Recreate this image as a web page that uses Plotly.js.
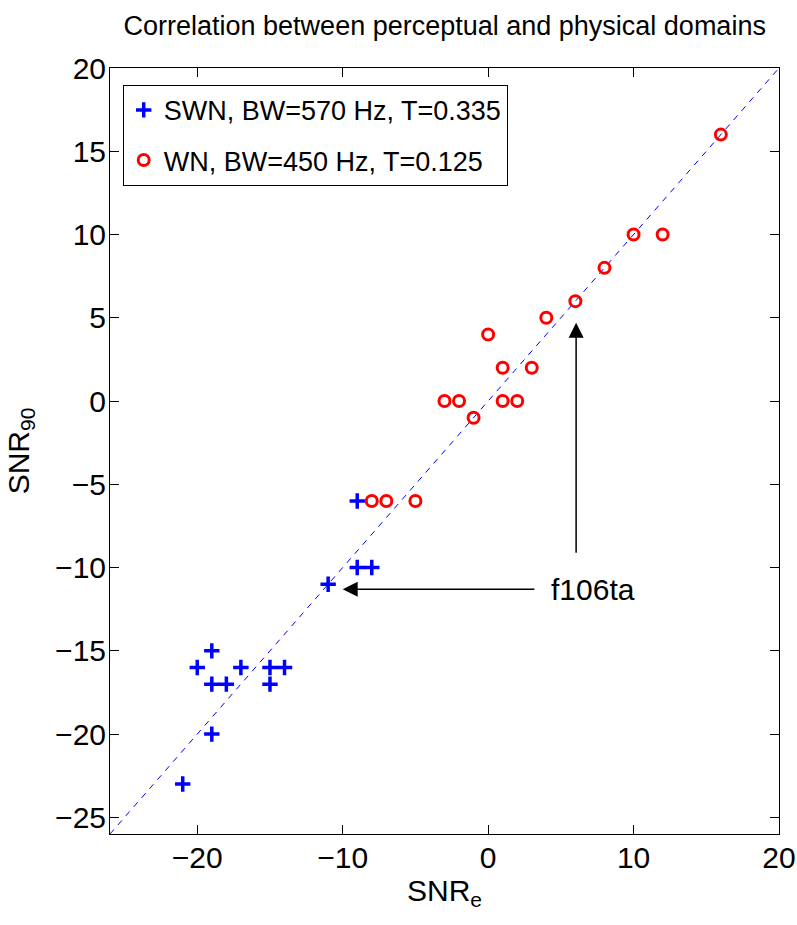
<!DOCTYPE html>
<html>
<head>
<meta charset="utf-8">
<script src="https://cdn.plot.ly/plotly-3.0.1.min.js"></script>
<style>html,body{margin:0;padding:0;background:#fff;}#chart{width:797px;height:925px;}</style>
</head>
<body>
<div id="chart"></div>
<script>
// SWN series (blue +)
const swnX = [-21, -20, -19, -19, -19, -18, -17, -15, -15, -14, -11, -9, -9, -8];
const swnY = [-23, -16, -15, -17, -20, -17, -16, -16, -17, -16, -11, -6, -10, -10];
// WN series (red o)
const wnX = [-8, -7, -5, -3, -2, -1, 0, 1, 1, 2, 3, 4, 6, 8, 10, 12, 16];
const wnY = [-6, -6, -6, 0, 0, -1, 4, 2, 0, 0, 2, 5, 6, 8, 10, 10, 16];
// diagonal reference
const diagX = [-26, 20];
const diagY = [-26, 20];
const xTicks = [-20, -10, 0, 10, 20];
const yTicks = [-25, -20, -15, -10, -5, 0, 5, 10, 15, 20];
const swnName = 'SWN, BW=570 Hz, T=0.335';
const wnName = 'WN, BW=450 Hz, T=0.125';
const annLabel = 'f106ta';

const FONT = '"Liberation Sans", Arial, sans-serif';

const traces = [
  {x: diagX, y: diagY, mode: 'lines', showlegend: false, hoverinfo: 'skip',
   line: {color: '#0000ff', width: 1, dash: '6px,6px'}},
  {x: swnX, y: swnY, mode: 'markers', name: swnName, legendgroup: 'a',
   marker: {symbol: 'cross-thin', size: 11, color: '#0000ff', line: {color: '#0000ff', width: 3.5}}},
  {x: wnX, y: wnY, mode: 'markers', name: wnName, legendgroup: 'b',
   marker: {symbol: 'circle-open', size: 11, color: '#ff0000', line: {color: '#ff0000', width: 3}}}
];

const axisCommon = {
  showgrid: false, zeroline: false, showline: true, linecolor: '#000', linewidth: 1,
  mirror: 'ticks', ticks: 'inside', ticklen: 9, tickcolor: '#000', tickwidth: 1,
  tickfont: {family: FONT, size: 30, color: '#000'}, tickmode: 'array', ticklabelstandoff: -3
};

const layout = {
  width: 797, height: 925,
  paper_bgcolor: '#fff', plot_bgcolor: '#fff',
  margin: {l: 110, r: 18, t: 68, b: 91},
  font: {family: FONT, color: '#000'},
  title: {text: 'Correlation between perceptual and physical domains',
          font: {family: FONT, size: 27, color: '#000'}, x: 0.558, xanchor: 'center', y: 0.972, yanchor: 'middle'},
  xaxis: Object.assign({}, axisCommon, {range: [-26, 20], tickvals: xTicks,
    title: {text: 'SNR<sub>e</sub>', font: {family: FONT, size: 30, color: '#000'}, standoff: 6}}),
  yaxis: Object.assign({}, axisCommon, {range: [-26, 20], tickvals: yTicks,
    title: {text: 'SNR<sub>90</sub>', font: {family: FONT, size: 30, color: '#000'}, standoff: 16}}),
  legend: {x: 0.019, y: 0.978, xanchor: 'left', yanchor: 'top', bgcolor: '#fff',
    bordercolor: '#000', borderwidth: 1, font: {family: FONT, size: 27, color: '#000'},
    itemwidth: 30, tracegroupgap: 12},
  annotations: [
    {x: -10, y: -11.3, ax: 7.2, ay: -11.3, xref: 'x', yref: 'y', axref: 'x', ayref: 'y',
     text: annLabel, showarrow: true, arrowhead: 2, arrowsize: 2, arrowwidth: 1.5, arrowcolor: '#000',
     borderpad: 16, font: {family: FONT, size: 30, color: '#000'}},
    {x: 6.05, y: 4.7, ax: 6.05, ay: -9.2, xref: 'x', yref: 'y', axref: 'x', ayref: 'y',
     text: '', showarrow: true, arrowhead: 2, arrowsize: 2, arrowwidth: 1.5, arrowcolor: '#000'}
  ],
  showlegend: true
};

Plotly.newPlot('chart', traces, layout, {displayModeBar: false, staticPlot: true});
</script>
</body>
</html>
